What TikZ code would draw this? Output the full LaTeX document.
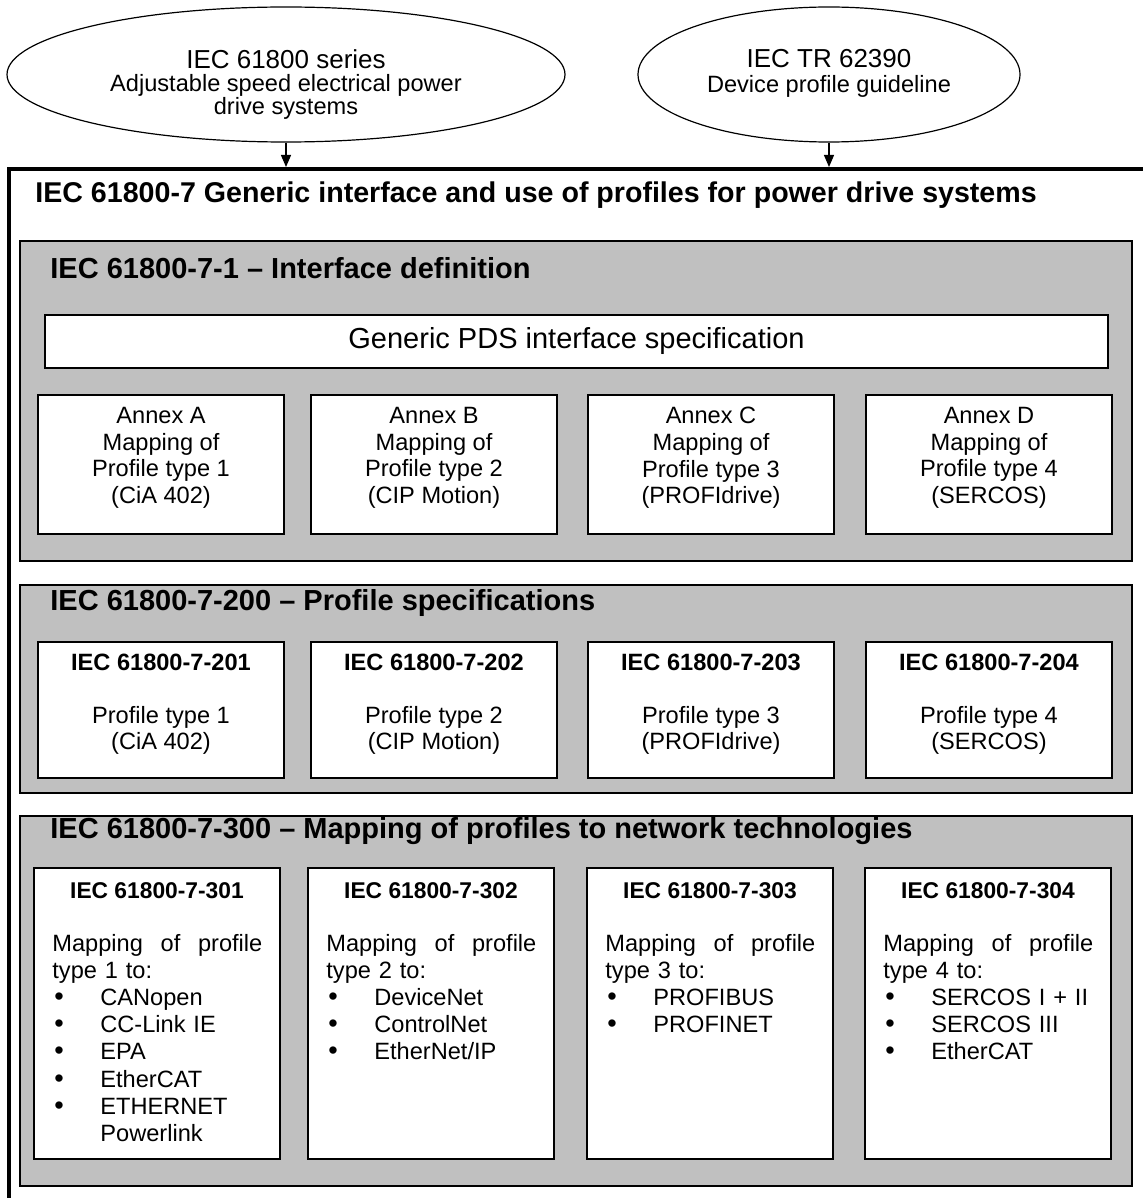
\documentclass[tikz,border=0pt]{standalone}
\usepackage{fontspec}
\setmainfont{Liberation Sans}
\usepackage{xcolor}
\usepackage{tikz}
\usetikzlibrary{shapes.geometric, arrows.meta}
\definecolor{panelgray}{HTML}{C0C0C0}
\newcommand{\bul}{\hspace*{1pt}\makebox[23pt][l]{{\fontsize{13.5}{13}\selectfont\textbullet}}}

\begin{document}
\begin{tikzpicture}[x=0.5pt, y=-0.5pt,
	src/.style={draw, ellipse, line width=0.6pt, inner sep=0pt, minimum height=67.5pt},
	srctext/.style={inner sep=0pt, align=center, font=\fontsize{11.8}{11.5}\selectfont},
	panel/.style={draw, fill=panelgray, line width=0.8pt, anchor=north west, minimum width=556pt, inner sep=0pt},
	head/.style={anchor=west, inner sep=0pt, font=\fontsize{14.5}{17}\selectfont\bfseries},
	wbox/.style={draw, fill=white, line width=0.8pt, minimum width=123pt, inner sep=0pt, align=center, font=\fontsize{11.8}{13.3}\selectfont},
	boxhead/.style={inner sep=0pt, font=\fontsize{11.4}{13}\selectfont\bfseries},
	body/.style={anchor=north west, inner sep=0pt, text width=105pt, align=left, font=\fontsize{11.8}{13.55}\selectfont}]
	\path[use as bounding box] (0,0) rectangle (1143,1198);
	\clip (0,0) rectangle (1143,1198);

	% sources
	\node[src, minimum width=279pt] (series) at (286,74.5) {};
	\node[srctext] (seriestext) at (286,85) {{\fontsize{13}{14}\selectfont IEC 61800 series}\\Adjustable speed electrical power\\drive systems};
	\node[src, minimum width=191pt] (guide) at (829,74.5) {};
	\node[srctext, font=\fontsize{11.8}{12.5}\selectfont] (guidetext) at (829,73) {{\fontsize{13}{14}\selectfont IEC TR 62390}\\Device profile guideline};

	% outer frame
	\node[draw, line width=1.8pt, anchor=north west, inner sep=0pt, minimum width=586.5pt, minimum height=531.5pt] (frame) at (7,167) {};
	\draw[-{Triangle[width=5pt,length=6pt]}, line width=0.6pt] (series.south) -- (series.south |- frame.north);
	\draw[-{Triangle[width=5pt,length=6pt]}, line width=0.6pt] (guide.south) -- (guide.south |- frame.north);
	\node[head, font=\fontsize{14.3}{17}\selectfont\bfseries] (ftitle) at (35,195) {IEC 61800-7 Generic interface and use of profiles for power drive systems};

	% part 1
	\node[panel, minimum height=160pt] (p1) at (19,240) {};
	\node[head] (p1title) at (50,268) {IEC 61800-7-1 – Interface definition};
	\node[wbox, minimum width=531.5pt, minimum height=26.5pt, font=\fontsize{14.5}{17}\selectfont] (gen) at (576.5,341.5) {Generic PDS interface specification};
	\node[wbox, minimum height=69.5pt] (annexA) at (161,464.5) {Annex A\\Mapping of\\Profile type 1\\(CiA 402)\rule[-9pt]{0pt}{0pt}};
	\node[wbox, minimum height=69.5pt] (annexB) at (434,464.5) {Annex B\\Mapping of\\Profile type 2\\(CIP Motion)\rule[-9pt]{0pt}{0pt}};
	\node[wbox, minimum height=69.5pt] (annexC) at (711,464.5) {Annex C\\Mapping of\\Profile type 3\\(PROFIdrive)\rule[-9pt]{0pt}{0pt}};
	\node[wbox, minimum height=69.5pt] (annexD) at (989,464.5) {Annex D\\Mapping of\\Profile type 4\\(SERCOS)\rule[-9pt]{0pt}{0pt}};

	% part 200
	\node[panel, minimum height=104pt] (p2) at (19,584) {};
	\node[head] (p2title) at (50,603) {IEC 61800-7-200 – Profile specifications};
	\node[wbox, minimum height=68pt] (prof1) at (161,710) {\textbf{IEC 61800-7-201}\\[13pt]Profile type 1\\(CiA 402)\rule[-8pt]{0pt}{0pt}};
	\node[wbox, minimum height=68pt] (prof2) at (434,710) {\textbf{IEC 61800-7-202}\\[13pt]Profile type 2\\(CIP Motion)\rule[-8pt]{0pt}{0pt}};
	\node[wbox, minimum height=68pt] (prof3) at (711,710) {\textbf{IEC 61800-7-203}\\[13pt]Profile type 3\\(PROFIdrive)\rule[-8pt]{0pt}{0pt}};
	\node[wbox, minimum height=68pt] (prof4) at (989,710) {\textbf{IEC 61800-7-204}\\[13pt]Profile type 4\\(SERCOS)\rule[-8pt]{0pt}{0pt}};

	% part 300
	\node[panel, minimum height=185pt] (p3) at (19,815) {};
	\node[head] (p3title) at (50,831) {IEC 61800-7-300 – Mapping of profiles to network technologies};
	\node[wbox, minimum height=145.5pt] (net1) at (157,1013.5) {};
	\node[wbox, minimum height=145.5pt] (net2) at (431,1013.5) {};
	\node[wbox, minimum height=145.5pt] (net3) at (710,1013.5) {};
	\node[wbox, minimum height=145.5pt] (net4) at (988,1013.5) {};
	\node[boxhead] (h301) at (157,891) {IEC 61800-7-301};
	\node[boxhead] (h302) at (431,891) {IEC 61800-7-302};
	\node[boxhead] (h303) at (710,891) {IEC 61800-7-303};
	\node[boxhead] (h304) at (988,891) {IEC 61800-7-304};
	\node[body] (b301) at (52,934) {Mapping\hfill of\hfill profile\\type 1 to:\\\bul CANopen\\\bul CC-Link IE\\\bul EPA\\\bul EtherCAT\\\bul ETHERNET\\\hspace*{24pt}Powerlink};
	\node[body] (b302) at (326,934) {Mapping\hfill of\hfill profile\\type 2 to:\\\bul DeviceNet\\\bul ControlNet\\\bul EtherNet/IP};
	\node[body] (b303) at (605,934) {Mapping\hfill of\hfill profile\\type 3 to:\\\bul PROFIBUS\\\bul PROFINET};
	\node[body] (b304) at (883,934) {Mapping\hfill of\hfill profile\\type 4 to:\\\bul SERCOS I + II\\\bul SERCOS III\\\bul EtherCAT};
\end{tikzpicture}
\end{document}
